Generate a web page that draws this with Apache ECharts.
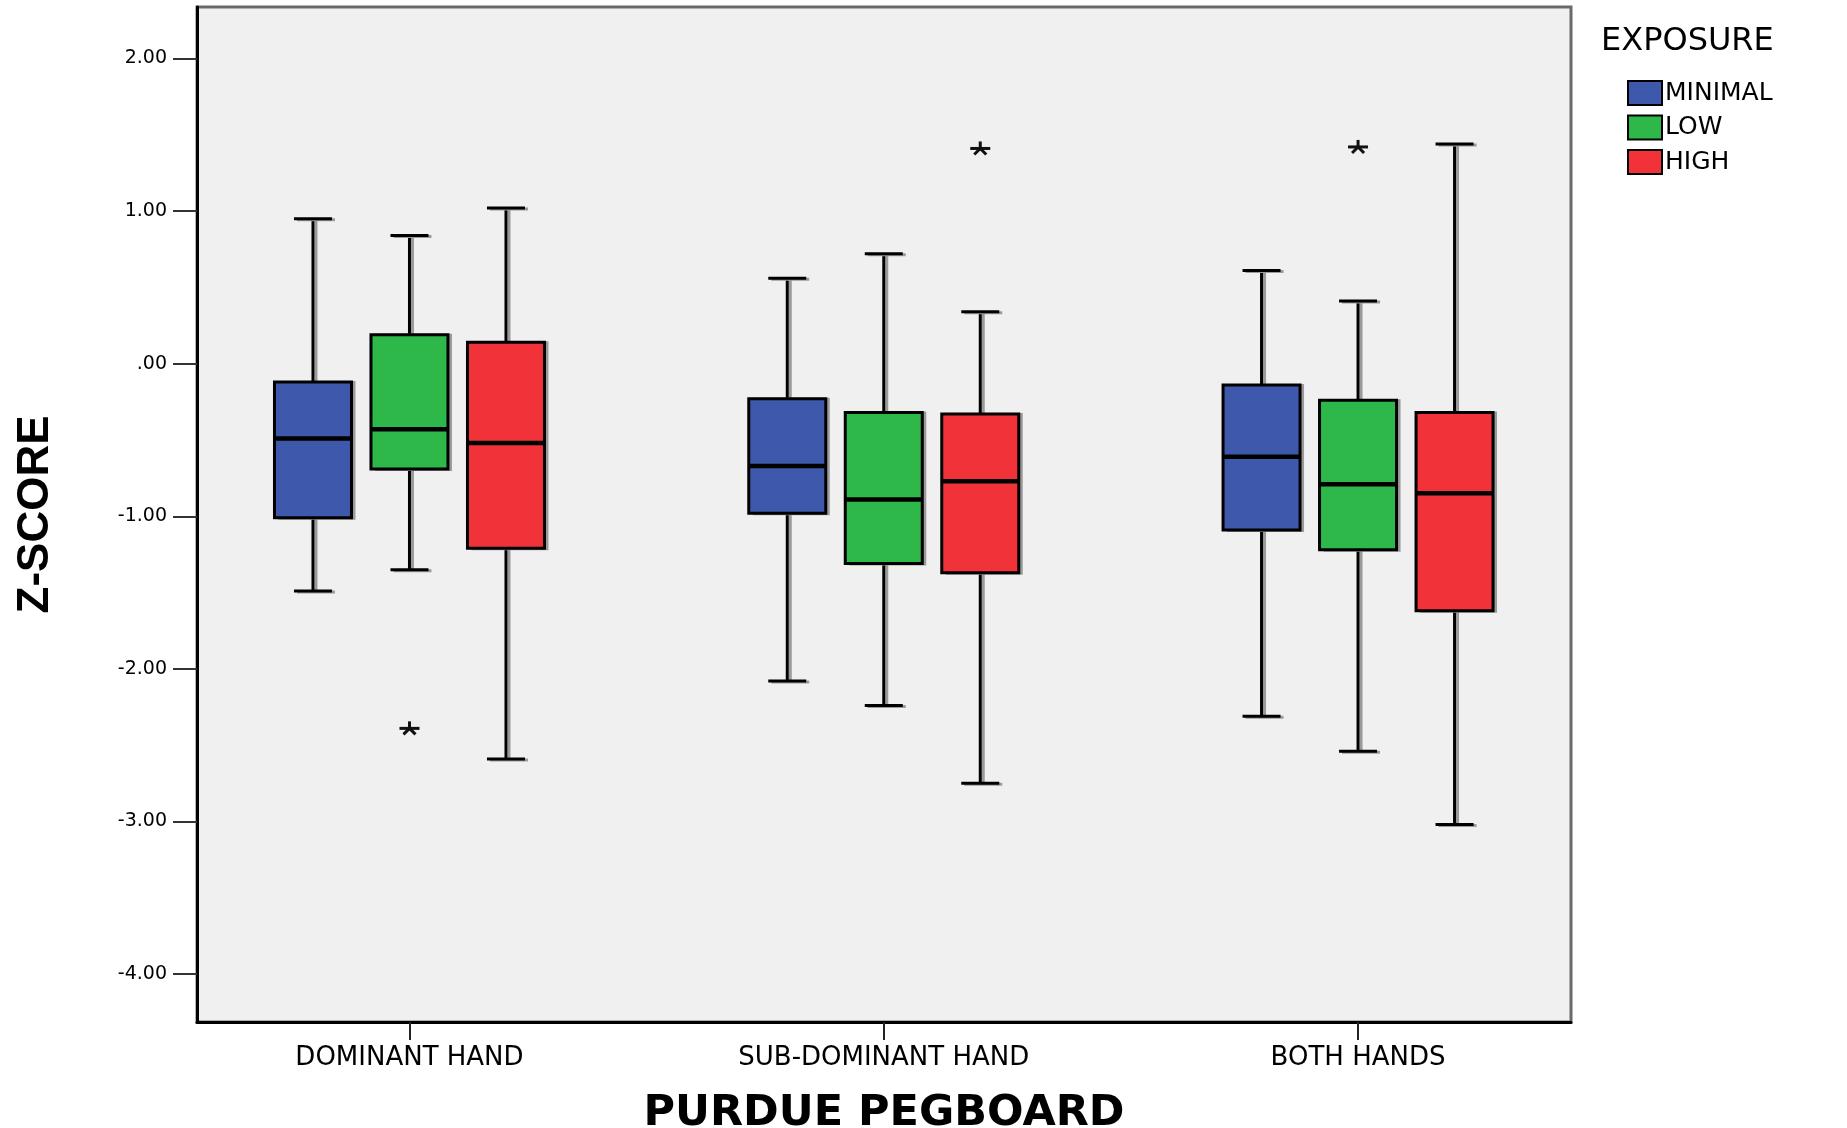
<!DOCTYPE html>
<html><head><meta charset="utf-8">
<script src="https://cdn.jsdelivr.net/npm/echarts@6/dist/echarts.min.js"></script>
<style>html,body{margin:0;padding:0;background:#fff}#c{width:1847px;height:1128px}</style>
</head><body><div id="c"></div>
<script>
// ---- data ----
const categories = ['DOMINANT HAND', 'SUB-DOMINANT HAND', 'BOTH HANDS'];
const exposures = ['MINIMAL', 'LOW', 'HIGH'];
// [min, Q1, median, Q3, max] per category
const minimalStats = [[-1.49, -1.01, -0.49, -0.12, 0.95], [-2.08, -0.98, -0.67, -0.23, 0.56], [-2.31, -1.09, -0.61, -0.14, 0.61]];
const lowStats     = [[-1.35, -0.69, -0.43, 0.19, 0.84], [-2.24, -1.31, -0.89, -0.32, 0.72], [-2.54, -1.22, -0.79, -0.24, 0.41]];
const highStats    = [[-2.59, -1.21, -0.52, 0.14, 1.02], [-2.75, -1.37, -0.77, -0.33, 0.34], [-3.02, -1.62, -0.85, -0.32, 1.44]];
// [categoryIndex, value]
const minimalOutliers = [];
const lowOutliers = [[0, -2.39], [2, 1.42]];
const highOutliers = [[1, 1.41]];
const yTickValues = [-4, -3, -2, -1, 0, 1, 2];
const yTickLabels = ['-4.00', '-3.00', '-2.00', '-1.00', '.00', '1.00', '2.00'];

// ---- styles ----
const colors = ['#3e58ab', '#2eb84a', '#f13239'];
const OFFSET = 96.5, HALF = 38.5, CAP = 19;
const FONT = 'DejaVu Sans';

function boxRenderer(si) {
  return function (params, api) {
    const cat = api.value(0);
    const cx = api.coord([cat, 0])[0] + (si - 1) * OFFSET;
    const y = k => api.coord([cat, api.value(k)])[1];
    const yMin = y(1), yQ1 = y(2), yMed = y(3), yQ3 = y(4), yMax = y(5);
    return {
      type: 'group',
      children: [
        { type: 'line', shape: { x1: cx + 3, y1: yMax, x2: cx + 3, y2: yMin }, style: { stroke: '#9a9a9a', lineWidth: 3 } },
        { type: 'line', shape: { x1: cx, y1: yMax, x2: cx, y2: yMin }, style: { stroke: '#000', lineWidth: 3 } },
        { type: 'line', shape: { x1: cx - CAP + 3, y1: yMax + 1, x2: cx + CAP + 3, y2: yMax + 1 }, style: { stroke: '#9a9a9a', lineWidth: 3 } },
        { type: 'line', shape: { x1: cx - CAP, y1: yMax, x2: cx + CAP, y2: yMax }, style: { stroke: '#000', lineWidth: 3 } },
        { type: 'line', shape: { x1: cx - CAP + 3, y1: yMin + 1, x2: cx + CAP + 3, y2: yMin + 1 }, style: { stroke: '#9a9a9a', lineWidth: 3 } },
        { type: 'line', shape: { x1: cx - CAP, y1: yMin, x2: cx + CAP, y2: yMin }, style: { stroke: '#000', lineWidth: 3 } },
        { type: 'rect', shape: { x: cx - HALF + 4, y: yQ3 - 1, width: HALF * 2, height: yQ1 - yQ3 + 3 }, style: { fill: '#9a9a9a' } },
        { type: 'rect', shape: { x: cx - HALF, y: yQ3, width: HALF * 2, height: yQ1 - yQ3 }, style: { fill: colors[si], stroke: '#000', lineWidth: 3 } },
        { type: 'line', shape: { x1: cx - HALF, y1: yMed, x2: cx + HALF, y2: yMed }, style: { stroke: '#000', lineWidth: 4.5 } }
      ]
    };
  };
}
function outlierRenderer(si) {
  return function (params, api) {
    const p = api.coord([api.value(0), api.value(1)]);
    const cx = p[0] + (si - 1) * OFFSET, cy = p[1];
    const st = { stroke: '#111', lineWidth: 3 };
    return {
      type: 'group',
      children: [
        { type: 'line', shape: { x1: cx - 10, y1: cy, x2: cx + 10, y2: cy }, style: st },
        { type: 'line', shape: { x1: cx, y1: cy - 7, x2: cx, y2: cy + 2 }, style: st },
        { type: 'line', shape: { x1: cx - 6, y1: cy + 6, x2: cx, y2: cy }, style: st },
        { type: 'line', shape: { x1: cx + 6, y1: cy + 6, x2: cx, y2: cy }, style: st }
      ]
    };
  };
}

const statsList = [minimalStats, lowStats, highStats];
const outlierList = [minimalOutliers, lowOutliers, highOutliers];
const series = [];
exposures.forEach((name, si) => {
  series.push({
    name: name,
    type: 'custom',
    renderItem: boxRenderer(si),
    itemStyle: { color: colors[si], borderColor: '#000', borderWidth: 2 },
    encode: { x: 0, y: [1, 2, 3, 4, 5] },
    data: statsList[si].map((r, i) => [i].concat(r)),
    z: 3
  });
});
exposures.forEach((name, si) => {
  series.push({
    name: name + ' outliers',
    type: 'custom',
    renderItem: outlierRenderer(si),
    encode: { x: 0, y: 1 },
    data: outlierList[si],
    z: 4
  });
});

const chart = echarts.init(document.getElementById('c'));
chart.setOption({
  animation: false,
  backgroundColor: '#fff',
  title: {
    text: 'EXPOSURE', left: 1596, top: 21,
    textStyle: { fontFamily: FONT, fontSize: 32, fontWeight: 'normal', color: '#000' }
  },
  legend: {
    data: exposures.map((n, i) => ({ name: n, icon: 'rect', itemStyle: { color: colors[i], borderColor: '#000', borderWidth: 2 } })),
    orient: 'vertical', left: 1622, top: 75,
    itemWidth: 34, itemHeight: 24, itemGap: 8.5,
    textStyle: { fontFamily: FONT, fontSize: 25, color: '#000', padding: [0, 0, 0, -2] }
  },
  grid: {
    left: 197, right: 276, top: 7, bottom: 106,
    outerBoundsMode: 'none', containLabel: false,
    show: true, backgroundColor: '#f0f0f0', borderColor: '#6a6a6a', borderWidth: 3
  },
  xAxis: {
    type: 'value', min: -0.448, max: 2.449,
    axisLine: { show: true, onZero: false, lineStyle: { color: '#000', width: 3 } },
    axisTick: { show: true, customValues: [0, 1, 2], length: 18, lineStyle: { color: '#222', width: 2 } },
    axisLabel: {
      customValues: [0, 1, 2], margin: 23,
      formatter: v => categories[Math.round(v)],
      fontFamily: FONT, fontSize: 26, color: '#000'
    },
    splitLine: { show: false },
    name: 'PURDUE PEGBOARD', nameLocation: 'middle', nameGap: 70,
    nameTextStyle: { fontFamily: FONT, fontWeight: 'bold', fontSize: 43, color: '#000' }
  },
  yAxis: {
    type: 'value', min: -4.314, max: 2.337,
    axisLine: { show: true, onZero: false, lineStyle: { color: '#000', width: 3 } },
    axisTick: { show: true, customValues: yTickValues, length: 24, lineStyle: { color: '#333', width: 2 } },
    axisLabel: {
      customValues: yTickValues, margin: 30,
      formatter: v => yTickLabels[yTickValues.indexOf(Math.round(v))],
      fontFamily: FONT, fontSize: 19, color: '#000'
    },
    splitLine: { show: false },
    name: 'Z-SCORE', nameLocation: 'middle', nameGap: 139,
    nameTextStyle: { fontFamily: 'Liberation Sans', fontWeight: 'bold', fontSize: 44, color: '#000' }
  },
  series: series
});
</script></body></html>
